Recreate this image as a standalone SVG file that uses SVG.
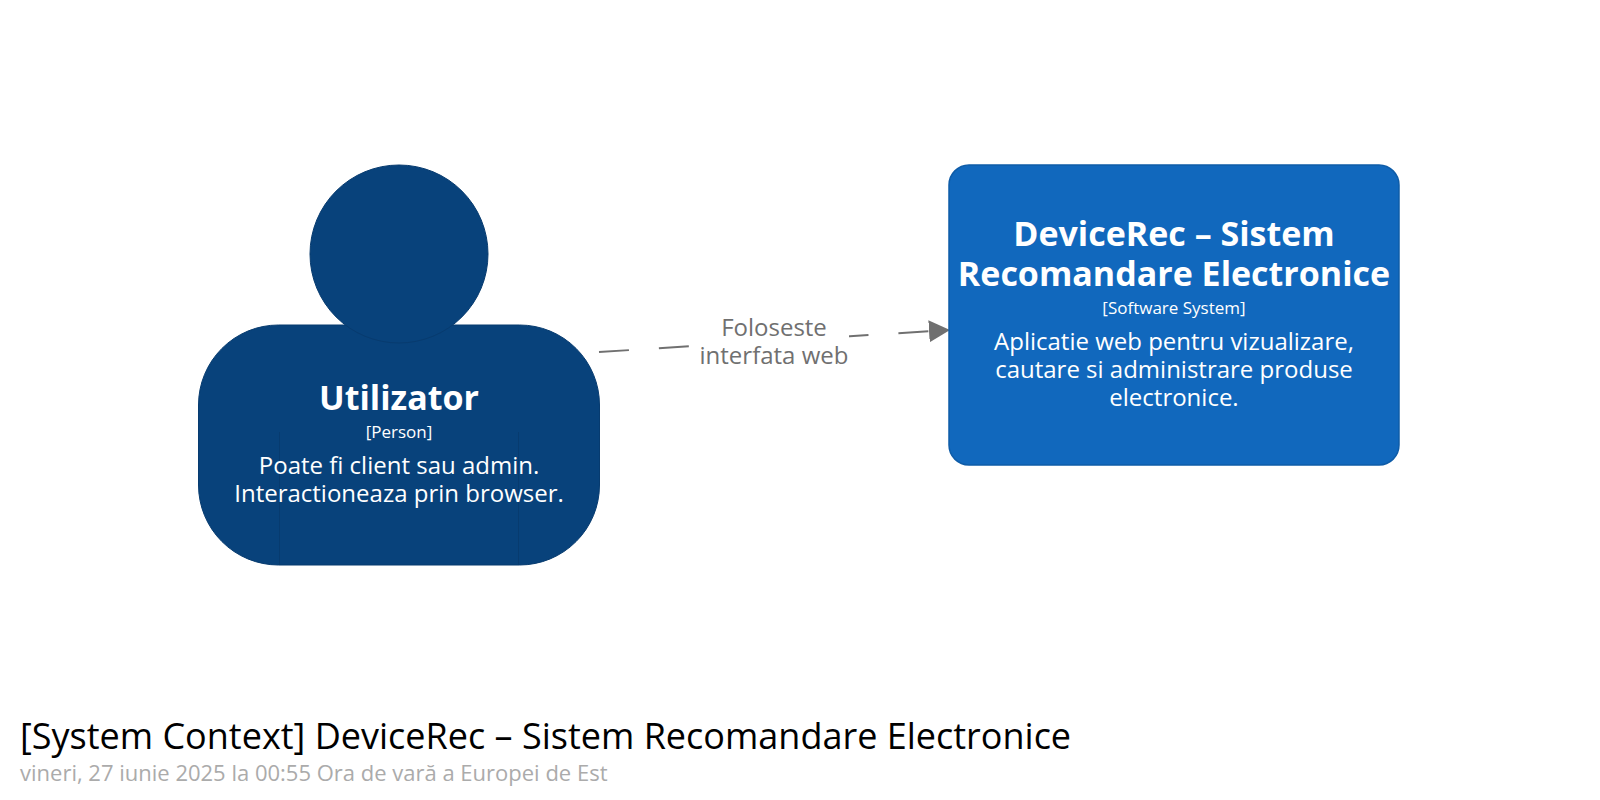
<svg xmlns="http://www.w3.org/2000/svg" width="1600" height="800" viewBox="0 0 1600 800">
<style>
text{font-family:"Open Sans","Noto Sans",sans-serif;text-anchor:middle}
.w{fill:#fff}
.t{font-size:34px;font-weight:700}
.m{font-size:17px}
.d{font-size:24px}
.l{font-size:24px;fill:#707070}
</style>
<defs><marker id="arrow" markerUnits="userSpaceOnUse" markerWidth="24" markerHeight="24" refX="21" refY="12" orient="auto"><path d="M0,1 L21,12 L0,23 Z" fill="#707070"/></marker></defs>
<rect width="1600" height="800" fill="#fff"/>
<g id="connectors"><line x1="599" y1="352" x2="950" y2="330" stroke="#707070" stroke-width="2" stroke-dasharray="30 30" marker-end="url(#arrow)"/><rect x="699" y="310" width="150" height="60" fill="#fff"/>
<text class="l" x="774" y="336">Foloseste</text><text class="l" x="774" y="364">interfata web</text></g>
<g id="person">
<rect x="198.500" y="325" width="401" height="240" rx="80" fill="#08427b" stroke="#073b6f" stroke-width="1"/>
<circle cx="399" cy="254" r="89" fill="#08427b" stroke="#073b6f" stroke-width="1"/>
<path d="M279.500 432V565M518.500 432V565" stroke="#073b6f" stroke-width="1" fill="none"/>
<text class="w t" x="399" y="410">Utilizator</text><text class="w m" x="399" y="438">[Person]</text>
<text class="w d" x="399" y="474">Poate fi client sau admin.</text><text class="w d" x="399" y="502">Interactioneaza prin browser.</text>
</g>
<g id="system">
<rect x="949" y="165" width="450" height="300" rx="20" fill="#1168bd" stroke="#0e5ca8" stroke-width="1.500"/>
<text class="w t" x="1174" y="246">DeviceRec – Sistem</text><text class="w t" x="1174" y="286">Recomandare Electronice</text>
<text class="w m" x="1174" y="314">[Software System]</text>
<text class="w d" x="1174" y="350">Aplicatie web pentru vizualizare,</text><text class="w d" x="1174" y="378">cautare si administrare produse</text><text class="w d" x="1174" y="406.400">electronice.</text>
</g>
<g id="title"><text x="20" y="749" style="text-anchor:start;font-size:36px" fill="#000">[System Context] DeviceRec – Sistem Recomandare Electronice</text>
<text x="20" y="781" style="text-anchor:start;font-size:22px" fill="#ababab">vineri, 27 iunie 2025 la 00:55 Ora de vară a Europei de Est</text></g>
</svg>
